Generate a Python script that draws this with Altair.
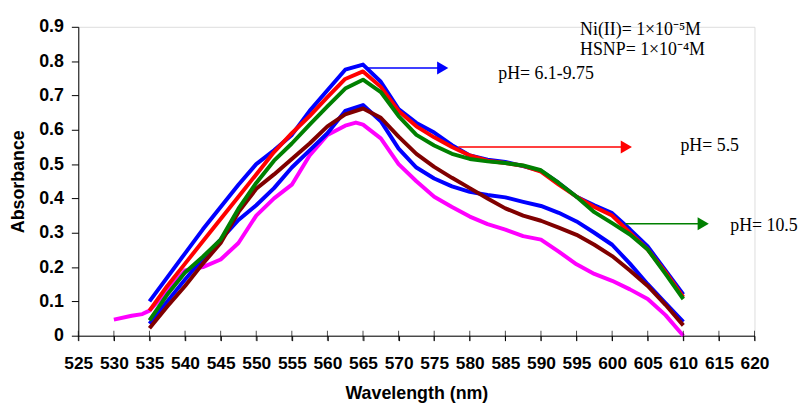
import altair as alt
import pandas as pd

# ---------------- data ----------------
wl = [535, 537.5, 540, 542.5, 545, 547.5, 550, 552.5, 555, 557.5, 560, 562.5, 565,
      567.5, 570, 572.5, 575, 577.5, 580, 582.5, 585, 587.5, 590, 592.5, 595, 597.5,
      600, 602.5, 605, 607.5, 610]

blue_hi = [0.10, 0.17, 0.24, 0.31, 0.375, 0.44, 0.50, 0.54, 0.585, 0.655, 0.715, 0.775, 0.79,
           0.74, 0.66, 0.62, 0.592, 0.555, 0.525, 0.513, 0.506, 0.494, 0.48, 0.445, 0.405, 0.38,
           0.357, 0.31, 0.26, 0.19, 0.12]
red = [0.073, 0.145, 0.21, 0.275, 0.34, 0.405, 0.47, 0.535, 0.59, 0.64, 0.695, 0.748, 0.77,
       0.725, 0.655, 0.61, 0.578, 0.55, 0.525, 0.51, 0.503, 0.495, 0.478, 0.44, 0.405, 0.375,
       0.35, 0.30, 0.251, 0.185, 0.112]
green = [0.045, 0.12, 0.184, 0.23, 0.28, 0.37, 0.445, 0.51, 0.56, 0.615, 0.668, 0.72, 0.746,
         0.71, 0.64, 0.585, 0.554, 0.53, 0.515, 0.508, 0.503, 0.496, 0.482, 0.445, 0.405, 0.36,
         0.328, 0.295, 0.251, 0.18, 0.107]
maroon = [0.022, 0.085, 0.145, 0.21, 0.27, 0.36, 0.428, 0.47, 0.515, 0.56, 0.61, 0.645, 0.662,
          0.635, 0.58, 0.53, 0.492, 0.46, 0.43, 0.40, 0.371, 0.35, 0.335, 0.315, 0.294, 0.265,
          0.232, 0.19, 0.145, 0.09, 0.03]
blue_lo = [0.035, 0.10, 0.164, 0.225, 0.28, 0.337, 0.38, 0.43, 0.49, 0.54, 0.59, 0.655, 0.672,
           0.625, 0.545, 0.49, 0.458, 0.435, 0.419, 0.41, 0.403, 0.39, 0.378, 0.358, 0.333, 0.30,
           0.265, 0.21, 0.15, 0.095, 0.04]

wl_mag = [530, 532.5, 534, 535, 537.5, 540, 542.5, 545, 547.5, 550, 552.5, 555, 557.5, 560,
          562.5, 564, 565, 567.5, 570, 572.5, 575, 577.5, 580, 582.5, 585, 587.5, 590, 592.5,
          595, 597.5, 600, 602.5, 605, 607.5, 610]
magenta = [0.047, 0.058, 0.063, 0.073, 0.13, 0.19, 0.20, 0.222, 0.27, 0.35, 0.40, 0.44, 0.525,
           0.585, 0.612, 0.621, 0.615, 0.575, 0.50, 0.45, 0.405, 0.375, 0.347, 0.325, 0.309,
           0.29, 0.28, 0.245, 0.208, 0.18, 0.16, 0.135, 0.107, 0.06, 0.0]

x_ticks = list(range(525, 621, 5))
y_ticks = [0, 0.1, 0.2, 0.3, 0.4, 0.5, 0.6, 0.7, 0.8, 0.9]

# annotation arrows: start x, end x (tip), y, colour
arrow_x1 = [565.7, 578.4, 601.9]
arrow_x2 = [576.2, 602.0, 612.8]
arrow_y = [0.780, 0.550, 0.326]
arrow_col = ["#0000FF", "#FF0000", "#008000"]

# annotation texts
ann_text = ["Ni(II)= 1×10⁻⁵M", "HSNP= 1×10⁻⁴M", "pH= 6.1-9.75", "pH= 5.5", "pH= 10.5"]
ann_x = [595.5, 595.5, 584.0, 609.6, 616.6]
ann_y = [0.876, 0.818, 0.749, 0.539, 0.304]

# ---------------- chart ----------------
xscale = alt.Scale(domain=[525, 620], nice=False, zero=False, padding=0)
yscale = alt.Scale(domain=[0, 0.9], nice=False, padding=0)

xaxis = alt.Axis(values=x_ticks, title="Wavelength (nm)")
yaxis = alt.Axis(values=y_ticks, title="Absorbance",
                 labelExpr="datum.value == 0 ? '0' : format(datum.value, '.1f')")

X = lambda f: alt.X(f, type="quantitative", scale=xscale, axis=xaxis)
Y = lambda f: alt.Y(f, type="quantitative", scale=yscale, axis=yaxis)

def series(xs, ys, colour):
    df = pd.DataFrame({"wl": xs, "a": ys})
    return alt.Chart(df).mark_line(color=colour, strokeWidth=4, strokeJoin="round",
                                   strokeCap="butt").encode(x=X("wl"), y=Y("a"))

lines = [
    series(wl_mag, magenta, "#FF00FF"),
    series(wl, blue_lo, "#0000FF"),
    series(wl, maroon, "#800000"),
    series(wl, blue_hi, "#0000FF"),
    series(wl, red, "#FF0000"),
    series(wl, green, "#008000"),
]

tick_df = pd.DataFrame({"wl": x_ticks, "z": [0] * len(x_ticks)})
inner_ticks = alt.Chart(tick_df).mark_tick(orient="vertical", size=10, thickness=1,
                                          color="black").encode(x=X("wl"), y=Y("z"))

arr_df = pd.DataFrame({"x1": arrow_x1, "x2": arrow_x2, "y": arrow_y, "c": arrow_col})
arrow_lines = alt.Chart(arr_df).mark_rule(strokeWidth=1.5).encode(
    x=X("x1"), x2="x2:Q", y=Y("y"), color=alt.Color("c:N", scale=None))
arrow_heads = alt.Chart(arr_df).mark_point(shape="triangle-right", filled=True, size=170,
                                          opacity=1).encode(
    x=X("x2"), y=Y("y"), color=alt.Color("c:N", scale=None))

ann_df = pd.DataFrame({"t": ann_text, "x": ann_x, "y": ann_y})
texts = alt.Chart(ann_df).mark_text(font="Liberation Serif", fontSize=18, align="left",
                                   baseline="alphabetic", color="black").encode(
    x=X("x"), y=Y("y"), text="t:N")

chart = alt.layer(*lines, inner_ticks, arrow_lines, arrow_heads, texts).properties(
    width=683, height=312,
    autosize=alt.AutoSizeParams(type="none"),
    padding={"left": 71, "top": 17, "right": 49, "bottom": 69},
).configure_view(stroke=None).configure(background="white").configure_axis(
    grid=False, labelFont="Liberation Sans", labelFontWeight="bold",
    labelColor="black", tickColor="black", domainColor="black",
    labelOverlap=False, labelFlush=False, labelBound=False,
    titleFont="Liberation Sans", titleFontWeight="bold", titleFontSize=18,
    titleColor="black", titleBaseline="middle",
).configure_axisX(
    labelFontSize=17.5, tickSize=5, labelPadding=14, titleY=58,
).configure_axisY(
    labelFontSize=18, tickSize=7, labelPadding=8, titleX=-60, titleY=156, titleAngle=-90,
)

chart.save("out.html", embed_options={"renderer": "svg", "actions": False})
